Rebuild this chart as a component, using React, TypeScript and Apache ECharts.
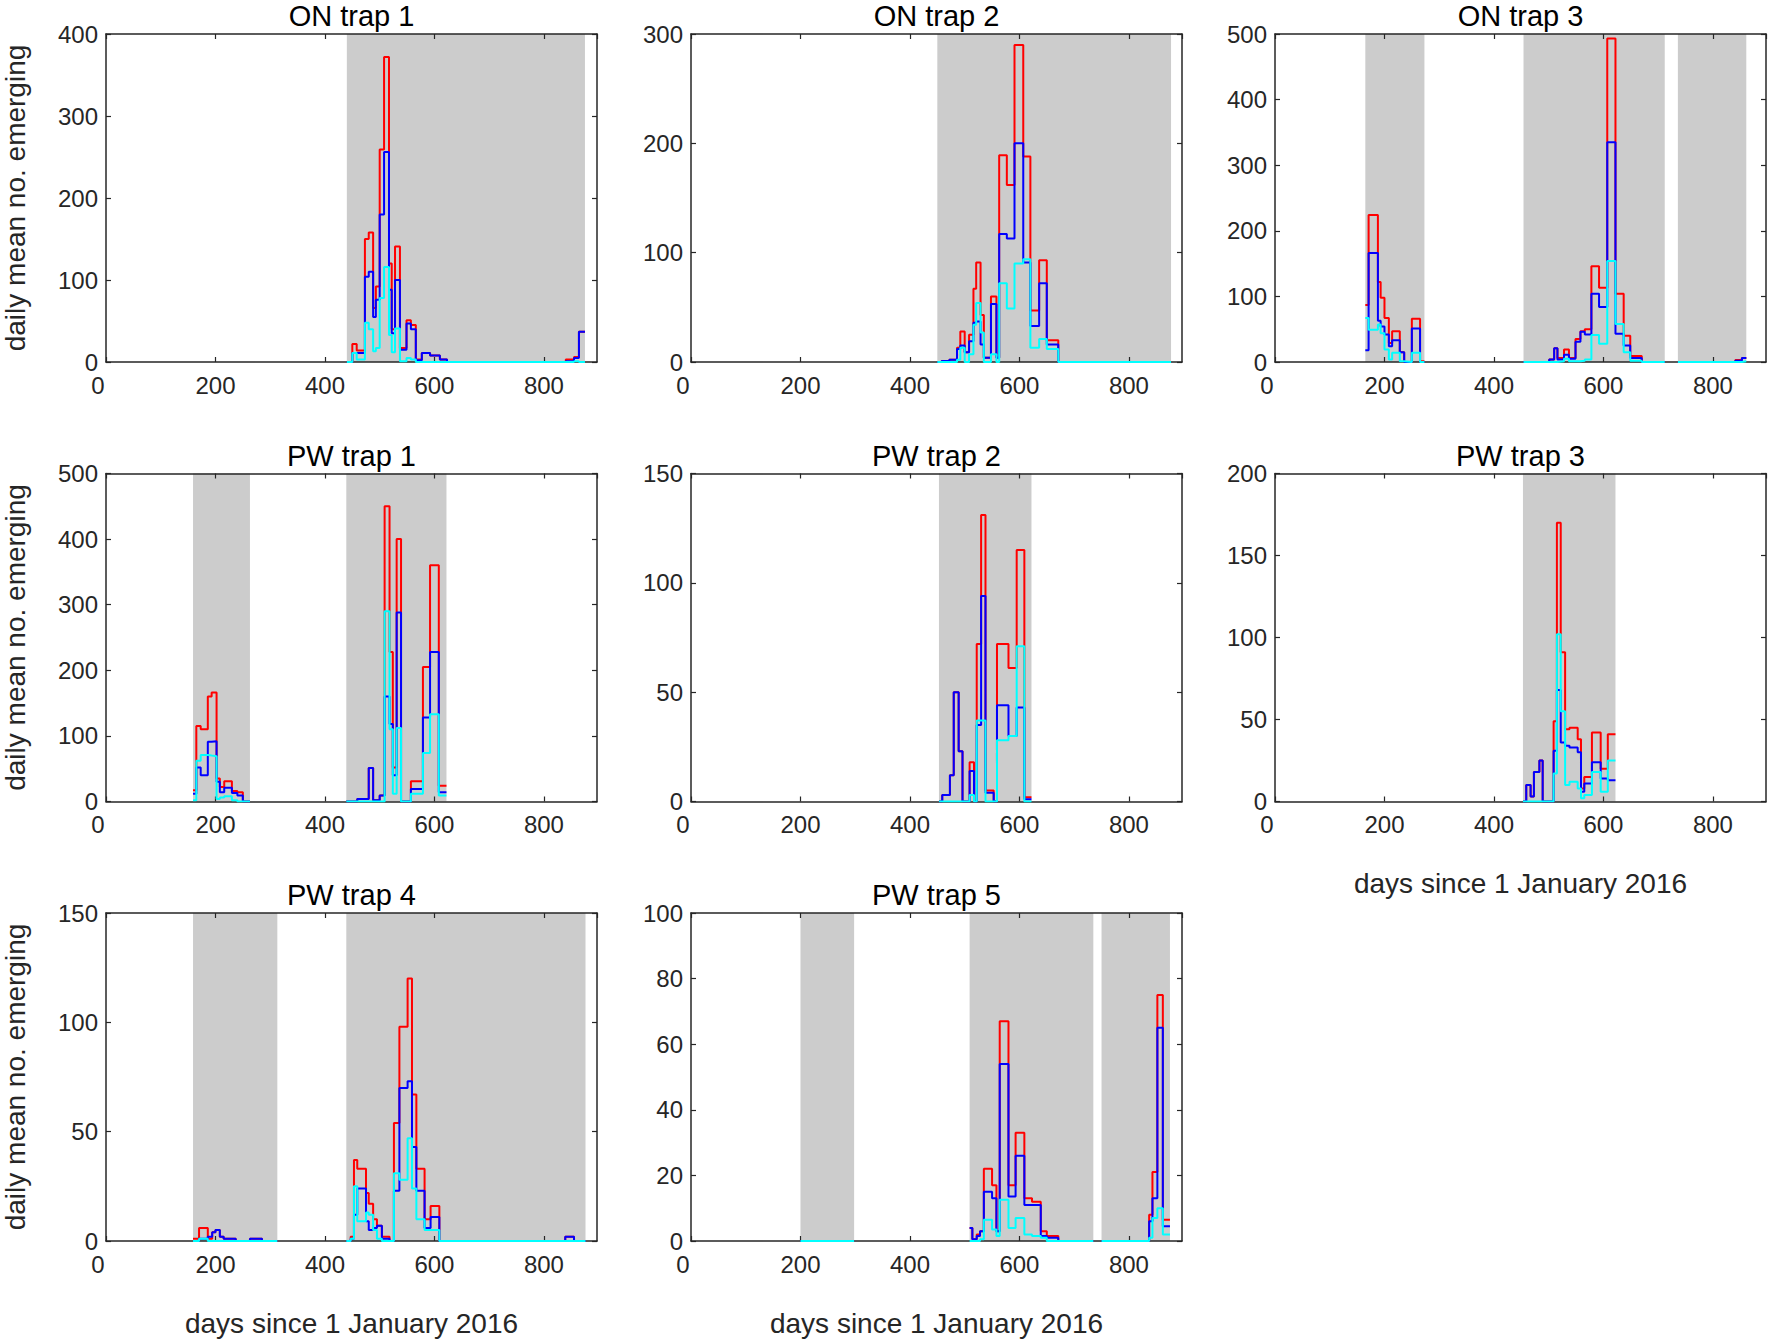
import React, { useEffect, useRef } from "react";
import * as echarts from "echarts";

const X_MAX = 897;
const X_TICK_STEP = 200;
const TITLES = ["ON trap 1", "ON trap 2", "ON trap 3", "PW trap 1", "PW trap 2", "PW trap 3", "PW trap 4", "PW trap 5"];
const Y_MAX = [400, 300, 500, 500, 150, 200, 150, 100];
const Y_STEP = [100, 100, 100, 100, 50, 50, 50, 20];
const X_LABEL = "days since 1 January 2016";
const Y_LABEL = "daily mean no. emerging";

// ON trap 1
const on1Edges = [440, 450, 458, 473, 480, 488, 493, 500, 508, 517, 522, 528, 537, 549, 557, 566, 577, 592, 610, 623, 840, 855, 864, 875];
const on1Red = [0, 22, 14, 150, 158, 66, 92, 259, 372, 120, 40, 141, 17, 51, 45, 3, 11, 8, 3, 0, 3, 6, 37];
const on1Blue = [0, 11, 11, 104, 110, 55, 76, 180, 256, 88, 35, 100, 15, 47, 40, 2, 11, 8, 3, 0, 1, 5, 37];
const on1Cyan = [0, 11, 3, 48, 40, 13, 17, 78, 116, 33, 12, 41, 1, 5, 3, 0, 0, 0, 0, 0, 0, 1, 0];
const on1Shade = [[440, 875]];

// ON trap 2
const on2Edges = [450, 458, 472, 486, 492, 500, 508, 516, 521, 529, 535, 548, 558, 563, 577, 591, 607, 620, 636, 650, 671, 877];
const on2Red = [0, 1, 2, 13, 28, 9, 25, 67, 91, 43, 4, 60, 4, 189, 162, 290, 188, 47, 93, 20, 0];
const on2Blue = [0, 1, 2, 12, 15, 9, 19, 36, 37, 16, 4, 53, 4, 117, 113, 200, 91, 33, 72, 16, 0];
const on2Cyan = [0, 0, 0, 2, 13, 0, 7, 34, 54, 27, 0, 7, 0, 72, 49, 90, 94, 13, 21, 12, 0];
const on2Shade = [[450, 877]];

// ON trap 3
const on3Edges = [165, 171, 188, 193, 200, 208, 214, 228, 236, 250, 265, 273, 454, 501, 510, 516, 528, 537, 549, 558, 566, 578, 592, 607, 622, 637, 649, 670, 712, 736, 841, 853, 861];
const on3Red = [87, 224, 122, 98, 67, 29, 47, 15, 0, 66, 1, null, 0, 4, 21, 6, 19, 6, 35, 47, 50, 146, 113, 493, 104, 40, 9, 0, null, 0, 3, 6];
const on3Blue = [18, 166, 63, 54, 42, 24, 33, 15, 0, 51, 0, null, 0, 4, 21, 4, 11, 5, 31, 46, 42, 104, 84, 335, 43, 25, 6, 0, null, 0, 2, 6];
const on3Cyan = [67, 49, 57, 44, 19, 4, 14, 1, 0, 14, 0, null, 0, 0, 0, 1, 5, 1, 1, 2, 4, 41, 28, 154, 58, 15, 2, 0, null, 0, 0, 1];
const on3Shade = [[165, 273], [454, 712], [736, 861]];

// PW trap 1
const pw1Edges = [159, 165, 173, 186, 193, 202, 208, 216, 230, 240, 250, 263, 439, 459, 480, 488, 500, 509, 518, 524, 531, 539, 557, 579, 592, 608, 622];
const pw1Red = [17, 115, 110, 160, 166, 35, 22, 31, 16, 14, 0, null, 0, 4, 51, 2, 9, 450, 228, 52, 400, 0, 31, 205, 360, 24];
const pw1Blue = [12, 52, 40, 91, 92, 30, 14, 21, 13, 9, 0, null, 0, 4, 51, 2, 9, 160, 118, 40, 288, 0, 19, 128, 228, 14];
const pw1Cyan = [2, 62, 71, 70, 69, 4, 6, 8, 2, 0, 0, null, 0, 0, 0, 0, 0, 290, 110, 12, 112, 0, 12, 74, 133, 9];
const pw1Shade = [[159, 263], [439, 622]];

// PW trap 2
const pw2Edges = [453, 459, 473, 480, 489, 496, 504, 509, 517, 522, 530, 538, 553, 559, 580, 595, 609, 622];
const pw2Red = [0, 3, 12, 50, 23, 0, 0, 18, 0, 72, 131, 5, 0, 72, 61, 115, 2];
const pw2Blue = [0, 3, 12, 50, 23, 0, 0, 14, 0, 35, 94, 4, 0, 44, 30, 43, 1];
const pw2Cyan = [0, 0, 0, 0, 0, 0, 0, 3, 0, 37, 37, 0, 0, 28, 30, 71, 0];
const pw2Shade = [[453, 622]];

// PW trap 3
const pw3Edges = [453, 459, 467, 473, 483, 489, 496, 509, 515, 522, 530, 538, 553, 559, 565, 579, 595, 608, 622];
const pw3Red = [0, 10, 3, 18, 25, 0, 0, 49, 170, 91, 44, 45, 38, 8, 15, 42, 20, 41];
const pw3Blue = [0, 10, 3, 18, 25, 0, 0, 31, 68, 36, 34, 33, 30, 6, 11, 24, 14, 13];
const pw3Cyan = [0, 0, 0, 0, 0, 0, 0, 17, 102, 55, 10, 12, 8, 2, 4, 18, 6, 25];
const pw3Shade = [[453, 622]];

// PW trap 4
const pw4Edges = [159, 170, 186, 194, 200, 208, 215, 237, 263, 285, 313, 439, 447, 453, 459, 475, 480, 488, 495, 504, 518, 526, 536, 551, 559, 567, 582, 593, 609, 839, 855, 876];
const pw4Red = [1, 6, 1, 4, 5, 2, 1, 0, 1, 0, null, 0, 2, 37, 33, 22, 17, 10, 7, 2, 0, 54, 98, 120, 67, 33, 10, 16, 0, 2, 0];
const pw4Blue = [0, 1, 2, 4, 5, 2, 1, 0, 1, 0, null, 0, 1, 12, 24, 9, 5, 6, 7, 1, 0, 23, 70, 73, 43, 23, 6, 11, 0, 2, 0];
const pw4Cyan = [0, 1, 0, 0, 0, 0, 0, 0, 0, 0, null, 0, 1, 25, 9, 13, 12, 5, 1, 0, 0, 31, 28, 47, 24, 10, 5, 5, 0, 0, 0];
const pw4Shade = [[159, 313], [439, 876]];

// PW trap 5
const pw5Edges = [200, 298, 509, 514, 522, 528, 535, 550, 558, 564, 580, 593, 609, 623, 639, 650, 671, 735, 750, 837, 843, 852, 862, 875];
const pw5Red = [0, null, 4, 0.5, 2, 3, 22, 17, 3, 67, 17, 33, 13, 12, 3, 1.5, 0, null, 0, 8, 21, 75, 6.5];
const pw5Blue = [0, null, 4, 0.5, 1.5, 3, 15, 13, 3, 54, 13.6, 26, 11, 11, 1.5, 1, 0, null, 0, 6, 13, 65, 4.5];
const pw5Cyan = [0, null, 0, 0, 0, 0.5, 6.5, 3.5, 1.5, 12.6, 4, 7, 2, 1.5, 1, 0, 0, null, 0, 1, 7, 10, 2];
const pw5Shade = [[200, 298], [509, 735], [750, 875]];

const EDGES = [on1Edges, on2Edges, on3Edges, pw1Edges, pw2Edges, pw3Edges, pw4Edges, pw5Edges];
const REDS = [on1Red, on2Red, on3Red, pw1Red, pw2Red, pw3Red, pw4Red, pw5Red];
const BLUES = [on1Blue, on2Blue, on3Blue, pw1Blue, pw2Blue, pw3Blue, pw4Blue, pw5Blue];
const CYANS = [on1Cyan, on2Cyan, on3Cyan, pw1Cyan, pw2Cyan, pw3Cyan, pw4Cyan, pw5Cyan];
const SHADES = [on1Shade, on2Shade, on3Shade, pw1Shade, pw2Shade, pw3Shade, pw4Shade, pw5Shade];

// layout
const COL_LEFT = [106, 691, 1275];
const ROW_TOP = [34, 473.5, 913];
const GW = 491;
const GH = 328;
const POS = [[0, 0], [0, 1], [0, 2], [1, 0], [1, 1], [1, 2], [2, 0], [2, 1]];
const XLABEL_PANELS = [5, 6, 7];
const YLABEL_PANELS = [0, 3, 6];

const FONT = "'Liberation Sans', Arial, Helvetica, sans-serif";
const AXIS_COLOR = "#262626";

function steps(edges: number[], vals: (number | null)[]) {
  const pts: any[] = [];
  for (let i = 0; i < vals.length; i++) {
    const v = vals[i];
    if (v === null) {
      if (pts.length && pts[pts.length - 1][1] !== null) pts.push([edges[i], null]);
      continue;
    }
    pts.push([edges[i], v]);
    if (i === vals.length - 1 || vals[i + 1] === null) pts.push([edges[i + 1], v]);
  }
  return pts;
}

export default function App() {
  const ref = useRef<HTMLDivElement>(null);
  useEffect(() => {
    if (!ref.current) return;
    const chart = echarts.init(ref.current, null, { renderer: "svg" });
    const grid: any[] = [];
    const xAxis: any[] = [];
    const yAxis: any[] = [];
    const series: any[] = [];
    const graphic: any[] = [];
    const tick = { show: true, inside: true, length: 5, lineStyle: { color: AXIS_COLOR, width: 1.2 } };
    const line = { show: true, onZero: false, lineStyle: { color: AXIS_COLOR, width: 1.5 } };

    POS.forEach(([r, c], i) => {
      const left = COL_LEFT[c];
      const top = ROW_TOP[r];
      grid.push({ left, top, width: GW, height: GH, show: false, containLabel: false });
      const xBase = {
        type: "value", gridIndex: i, min: 0, max: X_MAX, interval: X_TICK_STEP,
        axisLine: line, axisTick: tick, splitLine: { show: false }, z: 5,
      };
      xAxis.push({
        ...xBase, position: "bottom",
        axisLabel: {
          show: true, margin: 11, fontSize: 24, color: AXIS_COLOR, fontFamily: FONT, showMaxLabel: false,
          formatter: (v: number) => (v === 0 ? "{z|0}" : v % X_TICK_STEP === 0 ? String(v) : ""),
          rich: { z: { fontSize: 24, color: AXIS_COLOR, fontFamily: FONT, padding: [0, 16, 0, 0] } },
        },
      });
      xAxis.push({ ...xBase, position: "top", axisLabel: { show: false } });
      const yBase = {
        type: "value", gridIndex: i, min: 0, max: Y_MAX[i], interval: Y_STEP[i],
        axisLine: line, axisTick: tick, splitLine: { show: false }, z: 5,
      };
      yAxis.push({
        ...yBase, position: "left",
        axisLabel: { show: true, margin: 8, fontSize: 24, color: AXIS_COLOR, fontFamily: FONT },
      });
      yAxis.push({ ...yBase, position: "right", axisLabel: { show: false } });

      const ymax = Y_MAX[i];
      series.push({
        type: "custom", xAxisIndex: 2 * i, yAxisIndex: 2 * i, z: 1, silent: true,
        encode: { x: [0, 1], y: 2 },
        data: SHADES[i].map((s) => [s[0], s[1], 0]),
        renderItem: (params: any, api: any) => {
          const p0 = api.coord([api.value(0), ymax]);
          const p1 = api.coord([api.value(1), 0]);
          return {
            type: "rect",
            shape: { x: p0[0], y: p0[1], width: p1[0] - p0[0], height: p1[1] - p0[1] },
            style: { fill: "#cccccc" },
          };
        },
      });
      const add = (vals: (number | null)[], color: string) =>
        series.push({
          type: "line", xAxisIndex: 2 * i, yAxisIndex: 2 * i, step: "end", z: 10, silent: true,
          showSymbol: false, symbol: "none", connectNulls: false,
          lineStyle: { color, width: 2 }, itemStyle: { color },
          data: steps(EDGES[i], vals),
        });
      add(REDS[i], "#ff0000");
      add(BLUES[i], "#0000ff");
      add(CYANS[i], "#00ffff");

      graphic.push({
        type: "text", x: left + GW / 2, y: top - 18,
        style: { text: TITLES[i], fontSize: 29, fontFamily: FONT, fill: "#000", textAlign: "center", textVerticalAlign: "middle" },
      });
      if (XLABEL_PANELS.includes(i)) {
        graphic.push({
          type: "text", x: left + GW / 2, y: top + GH + 82,
          style: { text: X_LABEL, fontSize: 28, fontFamily: FONT, fill: AXIS_COLOR, textAlign: "center", textVerticalAlign: "middle" },
        });
      }
      if (YLABEL_PANELS.includes(i)) {
        graphic.push({
          type: "text", x: 15, y: top + GH / 2, rotation: Math.PI / 2,
          style: { text: Y_LABEL, fontSize: 28, fontFamily: FONT, fill: AXIS_COLOR, textAlign: "center", textVerticalAlign: "middle" },
        });
      }
    });

    chart.setOption({
      animation: false,
      backgroundColor: "#ffffff",
      grid, xAxis, yAxis, series, graphic,
    });
    return () => chart.dispose();
  }, []);
  return <div ref={ref} style={{ position: "absolute", left: 0, top: 0, width: 1770, height: 1341, background: "#fff" }} />;
}
